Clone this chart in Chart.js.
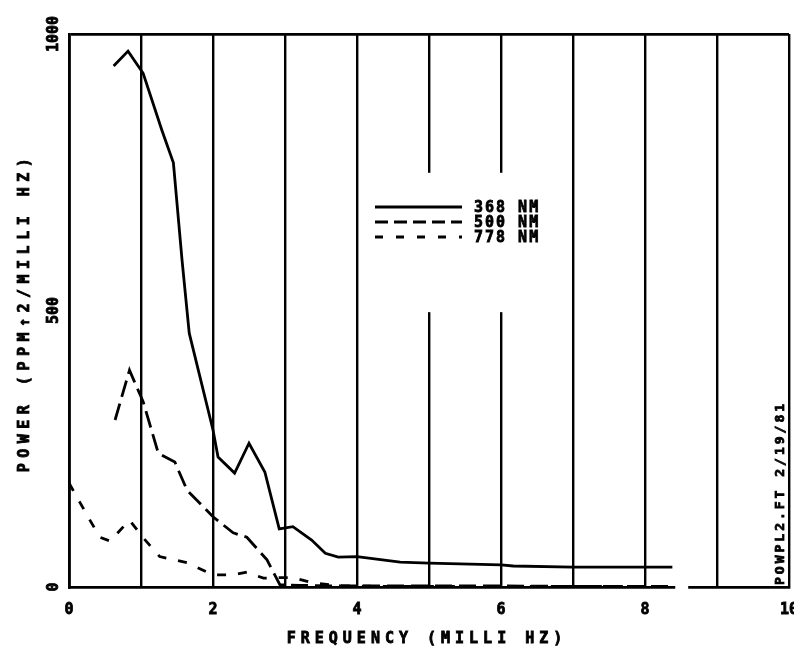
<!DOCTYPE html>
<html>
<head>
<meta charset="utf-8">
<script src="https://cdn.jsdelivr.net/npm/chart.js@4.4.1/dist/chart.umd.min.js"></script>
<style>
  html, body { margin: 0; padding: 0; background: #fff; }
  #wrap { width: 794px; height: 649px; }
</style>
</head>
<body>
<div id="wrap"><canvas id="grafico" width="794" height="649"></canvas></div>
<script>
// 368 NM (linea continua)
const freq368 = [0.62, 0.82, 1.03, 1.29, 1.45, 1.57, 1.67, 2.0, 2.07, 2.3, 2.5, 2.72, 2.92, 3.11, 3.37, 3.56, 3.74, 4.0, 4.6, 5.0, 6.0, 6.17, 7.0, 8.0, 8.38];
const pow368  = [942, 969, 929, 826, 767, 591, 459, 284, 235, 206, 260, 208, 105, 109, 85, 61, 54, 55, 45, 43, 40, 38, 36, 36, 36];

// 500 NM (guiones largos)
const freq500 = [0.64, 0.84, 1.03, 1.24, 1.47, 1.64, 2.0, 2.28, 2.47, 2.75, 2.93, 3.2, 3.6, 4.0, 5.0, 6.0, 7.0, 8.0, 8.38];
const pow500  = [302, 392, 335, 242, 226, 175, 127, 98, 90, 49, 4, 3, 2, 2, 2, 2, 1, 1, 1];

// 778 NM (guiones cortos)
const freq778 = [0, 0.29, 0.43, 0.57, 0.84, 1.03, 1.26, 1.64, 2.0, 2.28, 2.47, 2.7, 2.9, 3.1, 3.4, 3.8, 4.5, 6.0, 8.38];
const pow778  = [188, 121, 90, 83, 121, 89, 55, 44, 22, 22, 27, 16, 17, 17, 7, 2, 1, 1, 1];

const etiquetasSerie = ["368 NM", "500 NM", "778 NM"];
const xTicks = [0, 2, 4, 6, 8, 10];
const xTickLabels = ["0", "2", "4", "6", "8", "10"];
const yTicks = [0, 500, 1000];
const yTickLabels = ["0", "500", "1000"];

const tituloX = "FREQUENCY (MILLI HZ)";
const tituloY = "POWER (PPM\u21912/MILLI HZ)";
const notaLateral = "POWPL2.FT 2/19/81";

const FUENTE = "bold 15px 'DejaVu Sans Mono'";

function puntos(xs, ys) {
    return xs.map((x, i) => ({ x: x, y: ys[i] }));
}

const dashes = [[], [17, 7], [9, 12]];

// texto con trazo para que se vea grueso como en el plotter
function texto(c, t, x, y) {
    c.strokeText(t, x, y);
    c.fillText(t, x, y);
}

// tapa las lineas de la grilla detras de la leyenda
const huecoLeyenda = {
    id: "huecoLeyenda",
    beforeDatasetsDraw(chart) {
        const c = chart.ctx, sx = chart.scales.x, sy = chart.scales.y;
        const x1 = sx.getPixelForValue(4.5), x2 = sx.getPixelForValue(6.5);
        const y1 = sy.getPixelForValue(749), y2 = sy.getPixelForValue(497);
        c.save();
        c.fillStyle = "#fff";
        c.fillRect(x1, y1, x2 - x1, y2 - y1);
        c.restore();
    }
};

const textos = {
    id: "textos",
    afterDraw(chart) {
        const c = chart.ctx, sx = chart.scales.x, sy = chart.scales.y;
        const area = chart.chartArea;
        c.save();

        // pequeño corte en el eje inferior
        c.fillStyle = "#fff";
        const g1 = sx.getPixelForValue(8.42), g2 = sx.getPixelForValue(8.6);
        c.fillRect(g1, area.bottom - 3, g2 - g1, 6);

        c.fillStyle = "#000";
        c.strokeStyle = "#000";
        c.lineWidth = 0.8;
        c.font = FUENTE;

        // etiquetas del eje X
        c.textAlign = "center";
        c.textBaseline = "middle";
        xTicks.forEach((v, i) => {
            texto(c, xTickLabels[i], sx.getPixelForValue(v), area.bottom + 23);
        });

        // etiquetas del eje Y (giradas)
        yTicks.forEach((v, i) => {
            c.save();
            c.translate(area.left - 15, sy.getPixelForValue(v));
            c.rotate(-Math.PI / 2);
            texto(c, yTickLabels[i], 0, 0);
            c.restore();
        });

        // titulos
        c.letterSpacing = "5px";
        texto(c, tituloX, (area.left + area.right) / 2 - 2, area.bottom + 52);
        c.save();
        c.translate(25, (area.top + area.bottom) / 2 + 2);
        c.rotate(-Math.PI / 2);
        c.letterSpacing = "5.5px";
        texto(c, tituloY, 0, 0);
        c.restore();

        // nota lateral
        c.letterSpacing = "3px";
        c.font = "bold 13px 'DejaVu Sans Mono'";
        c.textAlign = "left";
        c.save();
        c.translate(area.right - 8, area.bottom - 2);
        c.rotate(-Math.PI / 2);
        texto(c, notaLateral, 0, 0);
        c.restore();

        // leyenda
        c.letterSpacing = "2px";
        c.font = FUENTE;
        const lx1 = 375, lx2 = 462, ly0 = 207, paso = 15;
        etiquetasSerie.forEach((t, i) => {
            const yy = ly0 + i * paso;
            c.beginPath();
            c.setLineDash(i === 0 ? [] : (i === 1 ? [13, 6] : [8, 13]));
            c.lineWidth = 2.8;
            c.moveTo(lx1, yy);
            c.lineTo(lx2, yy);
            c.stroke();
            c.setLineDash([]);
            c.lineWidth = 0.8;
            texto(c, t, lx2 + 12, yy + 1);
        });
        c.restore();
    }
};

const ctx = document.getElementById("grafico").getContext("2d");

const chart = new Chart(ctx, {
    type: "scatter",
    data: {
        datasets: [
            { label: etiquetasSerie[0], data: puntos(freq368, pow368) },
            { label: etiquetasSerie[1], data: puntos(freq500, pow500) },
            { label: etiquetasSerie[2], data: puntos(freq778, pow778) }
        ].map((ds, i) => Object.assign(ds, {
            showLine: true,
            borderColor: "#000",
            borderWidth: 2.8,
            borderDash: dashes[i],
            pointRadius: 0,
            fill: false,
            tension: 0
        }))
    },
    options: {
        responsive: false,
        animation: false,
        layout: { padding: { left: 69, right: 5, top: 34, bottom: 62 } },
        plugins: {
            legend: { display: false },
            tooltip: { enabled: false }
        },
        scales: {
            x: {
                type: "linear",
                min: 0,
                max: 10,
                ticks: { display: false, stepSize: 1 },
                grid: { color: "#000", lineWidth: 2.4, drawTicks: false },
                border: { color: "#000", width: 2.8 }
            },
            y: {
                type: "linear",
                min: 0,
                max: 1000,
                ticks: { display: false, stepSize: 500 },
                grid: {
                    color: c => (c.tick && c.tick.value === 1000) ? "#000" : "rgba(0,0,0,0)",
                    lineWidth: 2.8,
                    drawTicks: false
                },
                border: { color: "#000", width: 2.8 }
            }
        }
    },
    plugins: [huecoLeyenda, textos]
});
</script>
</body>
</html>
